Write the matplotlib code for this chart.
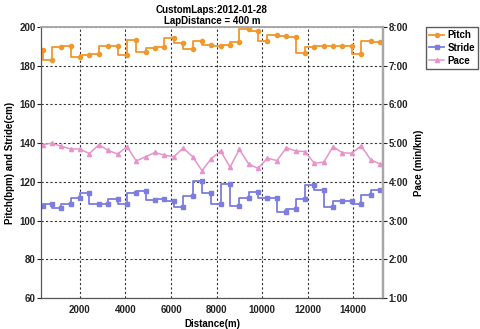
import matplotlib
matplotlib.use("Agg")
import matplotlib.pyplot as plt
from matplotlib.ticker import FuncFormatter

plt.rcParams['font.family'] = ['Liberation Sans', 'DejaVu Sans']
plt.rcParams['font.weight'] = 'bold'
plt.rcParams['font.size'] = 7

# cumulative distance of each lap point (m)
distance = [370, 780, 1190, 1600, 2010, 2420, 2840, 3250, 3660, 4070,
            4480, 4890, 5300, 5710, 6120, 6540, 6950, 7360, 7770, 8180,
            8590, 9000, 9410, 9820, 10230, 10650, 11060, 11470, 11880, 12290,
            12700, 13110, 13520, 13930, 14340, 14760, 15170]

# pitch (bpm)
pitch = [188.0, 182.9, 189.7, 190.3, 184.6, 185.5, 185.8, 190.3, 190.3, 185.5,
         193.2, 187.2, 188.9, 189.7, 194.4, 191.5, 188.5, 192.6, 190.9, 190.3,
         190.9, 192.0, 199.1, 197.8, 192.6, 196.1, 195.4, 194.9, 186.8, 189.7,
         190.1, 190.1, 190.1, 190.1, 185.8, 192.6, 192.0]

# stride (cm)
stride = [107.5, 108.8, 106.7, 108.8, 111.8, 114.0, 108.8, 108.8, 111.1, 108.4,
          114.0, 115.3, 110.5, 111.1, 110.0, 107.0, 112.8, 120.2, 114.0, 108.8,
          118.8, 107.5, 111.8, 114.9, 111.9, 111.9, 104.4, 105.8, 110.9, 118.4,
          115.8, 107.0, 110.0, 110.0, 108.8, 113.2, 115.8]

# pace (min/km, decimal minutes)
pace = [4.96, 5.00, 4.92, 4.85, 4.85, 4.73, 4.96, 4.81, 4.72, 4.91,
        4.54, 4.65, 4.76, 4.69, 4.65, 4.87, 4.65, 4.29, 4.60, 4.80,
        4.38, 4.84, 4.46, 4.35, 4.61, 4.55, 4.88, 4.80, 4.78, 4.48,
        4.51, 4.91, 4.75, 4.74, 4.93, 4.57, 4.46]

c_pitch = '#f0982c'
c_stride = '#7d7de0'
c_pace = '#e894cc'

fig = plt.figure(figsize=(4.8, 3.29), dpi=100)
ax = fig.add_axes([41/480, 1 - 298/329, (383 - 41)/480, (298 - 27)/329])
ax2 = ax.twinx()

l1, = ax.plot(distance, pitch, color=c_pitch, lw=1.3, marker='o', ms=3,
              drawstyle='steps-pre', label='Pitch')
l2, = ax.plot(distance, stride, color=c_stride, lw=1.3, marker='s', ms=3.2,
              drawstyle='steps-pre', label='Stride')
l3, = ax2.plot(distance, pace, color=c_pace, lw=1.1, marker='^', ms=3,
               label='Pace')

ax.set_xlim(300, 15300)
ax.set_ylim(60, 200)
ax2.set_ylim(1, 8)
ax.set_xticks([2000, 4000, 6000, 8000, 10000, 12000, 14000])
ax.set_yticks([60, 80, 100, 120, 140, 160, 180, 200])
ax2.set_yticks([1, 2, 3, 4, 5, 6, 7, 8])
ax2.yaxis.set_major_formatter(FuncFormatter(
    lambda v, p: f"{int(v)}:{int(round((v % 1) * 60)):02d}"))

ax.grid(True, linestyle=(0, (2, 2)), color='#333333', lw=0.8)
ax.tick_params(axis='y', direction='out', length=3, width=0.8, pad=1, colors='#222222')
ax.tick_params(axis='x', length=0, pad=5, colors='#222222')
ax2.tick_params(axis='y', direction='out', length=3, width=0.8, pad=1, colors='#222222')
for lab in ax.get_xticklabels() + ax.get_yticklabels() + ax2.get_yticklabels():
    lab.set_fontweight('bold')

for a in (ax, ax2):
    a.spines['left'].set_color('#555555')
    a.spines['bottom'].set_color('#555555')
    a.spines['top'].set_color('#a8a8a8')
    a.spines['right'].set_color('#a8a8a8')
    a.spines['right'].set_linewidth(1.6)
    a.spines['top'].set_linewidth(1.2)

ax.set_title('CustomLaps:2012-01-28\nLapDistance = 400 m', fontsize=7,
             fontweight='bold', pad=2, linespacing=1.2)
ax.set_xlabel('Distance(m)', labelpad=3, fontweight='bold')
ax.set_ylabel('Pitch(bpm) and Stride(cm)', labelpad=3, fontweight='bold')
ax2.set_ylabel('Pace (min/km)', labelpad=4, fontweight='bold')

fig.legend(handles=[l1, l2, l3], loc='upper left',
           bbox_to_anchor=(426/480, 1 - 27/329), fontsize=7,
           frameon=True, fancybox=False, edgecolor='#333333',
           handlelength=1.6, handletextpad=0.3, borderpad=0.3,
           labelspacing=0.3, borderaxespad=0)

fig.savefig('out.png', dpi=100)
